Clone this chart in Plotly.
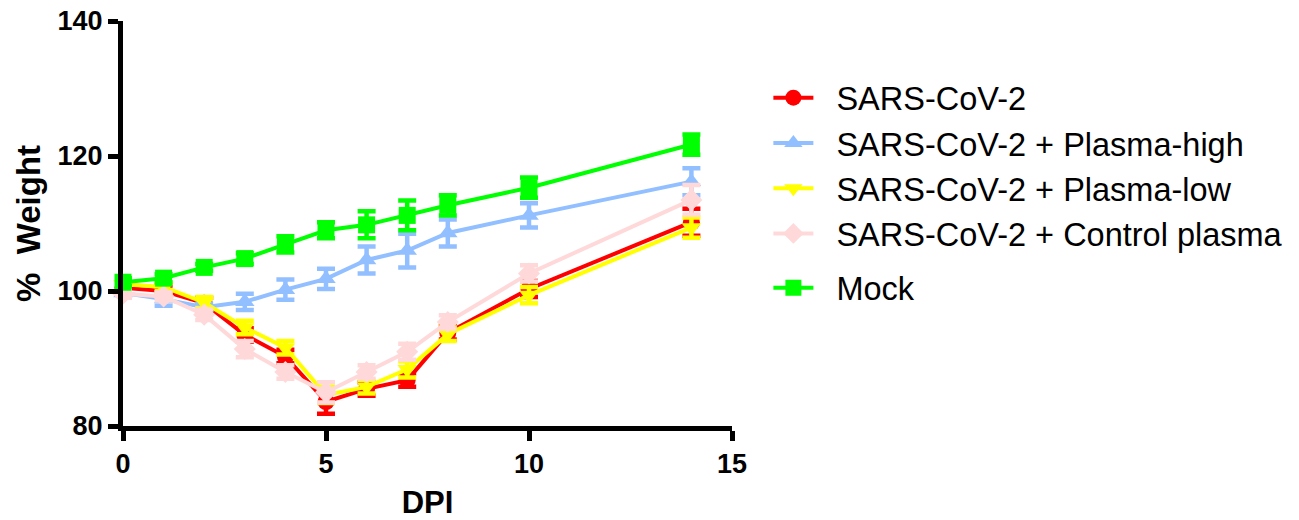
import plotly.graph_objects as go

days = [0, 1, 2, 3, 4, 5, 6, 7, 8, 10, 14]

sars = [100.5, 100.0, 98.2, 93.5, 90.3, 83.6, 85.5, 86.8, 93.8, 100.3, 110.2]
sars_err = [0.8, 0.8, 0.8, 1.0, 1.0, 1.8, 1.0, 1.0, 1.0, 1.2, 2.0]

high = [99.7, 98.8, 97.6, 98.4, 100.2, 101.8, 104.6, 106.0, 108.6, 111.2, 116.2]
high_err = [0.5, 1.0, 0.5, 1.2, 1.5, 1.5, 2.0, 2.5, 2.0, 1.8, 2.0]

low = [101.0, 100.6, 98.3, 94.6, 91.6, 84.6, 85.8, 88.4, 93.6, 99.4, 109.4]
low_err = [0.6, 0.6, 0.8, 1.0, 1.0, 1.2, 1.0, 1.2, 1.0, 1.2, 1.5]

ctrl = [99.6, 99.2, 96.5, 91.4, 88.0, 85.0, 88.0, 91.0, 95.4, 102.6, 113.5]
ctrl_err = [0.6, 0.6, 0.8, 1.2, 1.0, 1.5, 1.0, 1.2, 1.0, 1.2, 2.2]

mock = [101.3, 101.9, 103.5, 104.8, 106.9, 109.0, 109.8, 111.2, 112.7, 115.3, 121.7]
mock_err = [0.6, 0.6, 0.5, 0.8, 1.2, 1.2, 2.0, 2.2, 1.5, 1.5, 1.5]

series = [
    ("SARS-CoV-2", sars, sars_err, "#FF0000", "circle", "a"),
    ("SARS-CoV-2 + Plasma-high", high, high_err, "#92BFFF", "triangle-up", "a"),
    ("SARS-CoV-2 + Plasma-low", low, low_err, "#FFFF00", "triangle-down", "a"),
    ("SARS-CoV-2 + Control plasma", ctrl, ctrl_err, "#FFD9D9", "diamond", "a"),
    ("Mock", mock, mock_err, "#00FF00", "square", "b"),
]

FONT = "Liberation Sans, Arial, sans-serif"
PAD = "\u00a0\u00a0"

fig = go.Figure()
for name, y, err, color, sym, grp in series:
    fig.add_trace(go.Scatter(
        x=days, y=y, name=PAD + name, mode="lines+markers",
        legendgroup=grp, cliponaxis=False,
        line=dict(color=color, width=4),
        marker=dict(symbol=sym, size=17, color=color),
        error_y=dict(type="data", array=err, color=color, thickness=4.5, width=9),
    ))

fig.update_layout(
    width=1299, height=520,
    margin=dict(l=123, r=566, t=21, b=94),
    plot_bgcolor="white", paper_bgcolor="white",
    font=dict(family=FONT, color="black"),
    showlegend=True,
    legend=dict(
        x=1.058, y=0.879, xanchor="left", yanchor="top",
        font=dict(family=FONT, size=32.5, color="black"),
        tracegroupgap=9, traceorder="grouped", itemwidth=40,
        itemsizing="trace", bgcolor="rgba(0,0,0,0)",
    ),
    xaxis=dict(
        range=[0, 15], tickvals=[0, 5, 10, 15], ticktext=["<b>0</b>", "<b>5</b>", "<b>10</b>", "<b>15</b>"],
        showline=True, linecolor="black", linewidth=5, showgrid=False, zeroline=False,
        ticks="outside", ticklen=10, tickwidth=5, tickcolor="black", automargin=False,
        tickfont=dict(family=FONT, size=27, color="black"),
        title=dict(text="<b>DPI</b>", font=dict(family=FONT, size=31, color="black"), standoff=16),
    ),
    yaxis=dict(
        range=[80, 140], tickvals=[80, 100, 120, 140], ticktext=["<b>80</b>", "<b>100</b>", "<b>120</b>", "<b>140</b>"],
        showline=True, linecolor="black", linewidth=5, showgrid=False, zeroline=False,
        ticks="outside", ticklen=10, tickwidth=5, tickcolor="black", automargin=False,
        tickfont=dict(family=FONT, size=27, color="black"),
        title=dict(text="<b>%  Weight</b>", font=dict(family=FONT, size=33, color="black"), standoff=8),
    ),
)

fig.write_html("out.html")
